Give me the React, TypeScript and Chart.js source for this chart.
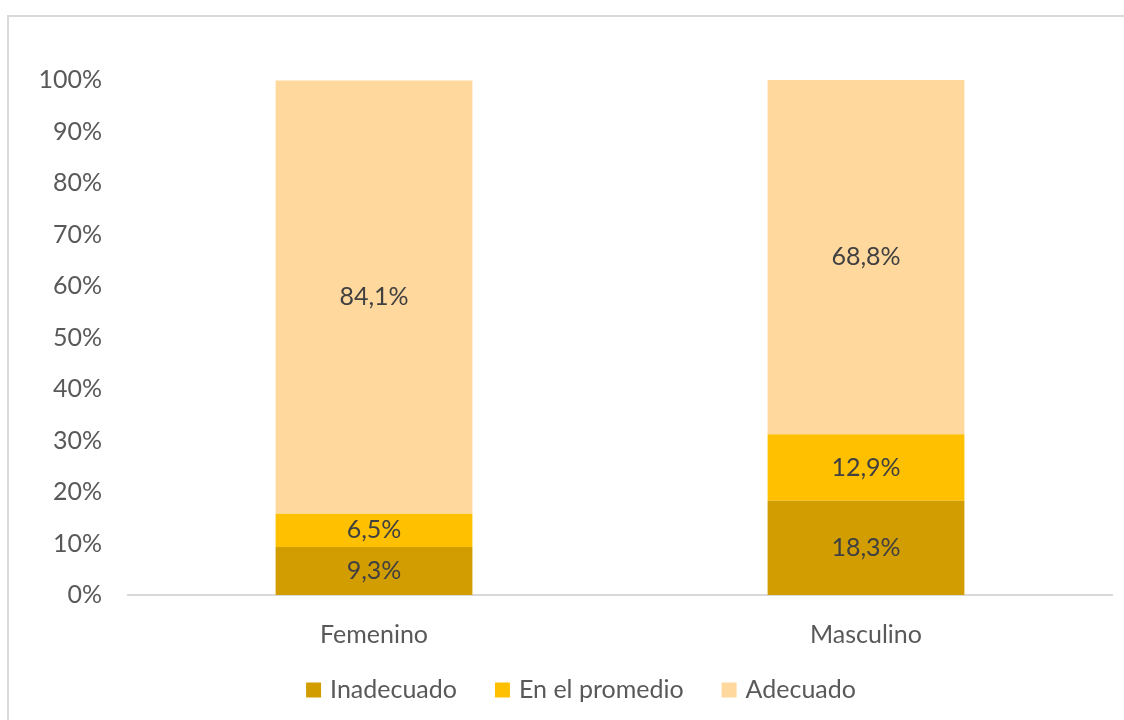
import React, { useEffect, useRef } from "react";
import { Chart, registerables } from "chart.js";

Chart.register(...registerables);

const categories = ["Femenino", "Masculino"];
const seriesNames = ["Inadecuado", "En el promedio", "Adecuado"];
const inadecuado = [9.3, 18.3];
const enElPromedio = [6.5, 12.9];
const adecuado = [84.1, 68.8];
const seriesColors = ["#D29D00", "#FFC000", "#FFD89E"];
const yTicks = [0, 10, 20, 30, 40, 50, 60, 70, 80, 90, 100];

const FONT = "Lato, 'Noto Sans', sans-serif";
const FS = 25;

const framePlugin = {
  id: "frame",
  beforeDraw(chart: any) {
    const ctx = chart.ctx;
    ctx.save();
    ctx.fillStyle = "#ffffff";
    ctx.fillRect(0, 0, chart.width, chart.height);
    ctx.fillStyle = "#D9D9D9";
    ctx.fillRect(7, 15, chart.width, 2);
    ctx.fillRect(7, 15, 2, chart.height);
    ctx.restore();
  },
};

const labelPlugin = {
  id: "segLabels",
  afterDatasetsDraw(chart: any) {
    const ctx = chart.ctx;
    ctx.save();
    ctx.font = `${FS}px ${FONT}`;
    ctx.fillStyle = "#404040";
    ctx.textAlign = "center";
    ctx.textBaseline = "middle";
    chart.data.datasets.forEach((ds: any, i: number) => {
      const meta = chart.getDatasetMeta(i);
      meta.data.forEach((bar: any, j: number) => {
        const v = ds.data[j];
        const yc = (bar.y + bar.base) / 2;
        ctx.fillText(v.toFixed(1).replace(".", ",") + "%", bar.x, yc);
      });
    });
    ctx.restore();
  },
};

const legendPlugin = {
  id: "bottomLegend",
  afterDraw(chart: any) {
    const ctx = chart.ctx;
    const box = 15;
    const gap = 9;
    const spacing = 38;
    const centerX = 581;
    const centerY = 690;
    ctx.save();
    ctx.font = `${FS}px ${FONT}`;
    ctx.textBaseline = "middle";
    ctx.textAlign = "left";
    const items = chart.data.datasets.map((ds: any) => ({
      text: ds.label,
      color: ds.backgroundColor,
      w: box + gap + ctx.measureText(ds.label).width,
    }));
    const total =
      items.reduce((s: number, it: any) => s + it.w, 0) + spacing * (items.length - 1);
    let x = centerX - total / 2;
    items.forEach((it: any) => {
      ctx.fillStyle = it.color;
      ctx.fillRect(x, centerY - box / 2, box, box);
      ctx.fillStyle = "#595959";
      ctx.fillText(it.text, x + box + gap, centerY);
      x += it.w + spacing;
    });
    ctx.restore();
  },
};

export default function App() {
  const ref = useRef<HTMLCanvasElement>(null);
  useEffect(() => {
    if (!ref.current) return;
    const data = [inadecuado, enElPromedio, adecuado];
    const chart = new Chart(ref.current, {
      type: "bar",
      data: {
        labels: categories,
        datasets: seriesNames.map((name, i) => ({
          label: name,
          data: data[i],
          backgroundColor: seriesColors[i],
          borderWidth: 0,
          categoryPercentage: 1,
          barPercentage: 0.4,
        })),
      },
      options: {
        responsive: false,
        animation: false,
        devicePixelRatio: 1,
        layout: { padding: { top: 80, right: 12, left: 0, bottom: 65 } },
        plugins: {
          legend: { display: false },
          tooltip: { enabled: false },
        },
        scales: {
          x: {
            stacked: true,
            grid: { display: false, drawTicks: false },
            border: { display: true, color: "#D9D9D9", width: 2 },
            ticks: {
              color: "#595959",
              font: { family: FONT, size: FS },
              padding: 25,
            },
            afterFit(scale: any) {
              scale.height = 60;
            },
          },
          y: {
            stacked: true,
            min: 0,
            max: 100,
            grid: { display: false, drawTicks: false },
            border: { display: false },
            afterBuildTicks(scale: any) {
              scale.ticks = yTicks.map((v) => ({ value: v }));
            },
            ticks: {
              color: "#595959",
              font: { family: FONT, size: FS },
              padding: 26,
              callback: (v: any) => `${v}%`,
            },
            afterFit(scale: any) {
              scale.width = 128;
            },
          },
        },
      },
      plugins: [framePlugin, labelPlugin, legendPlugin],
    });
    return () => chart.destroy();
  }, []);
  return (
    <div style={{ position: "fixed", left: 0, top: 0, width: 1124, height: 720 }}>
      <canvas ref={ref} width={1124} height={720} style={{ display: "block" }} />
    </div>
  );
}
